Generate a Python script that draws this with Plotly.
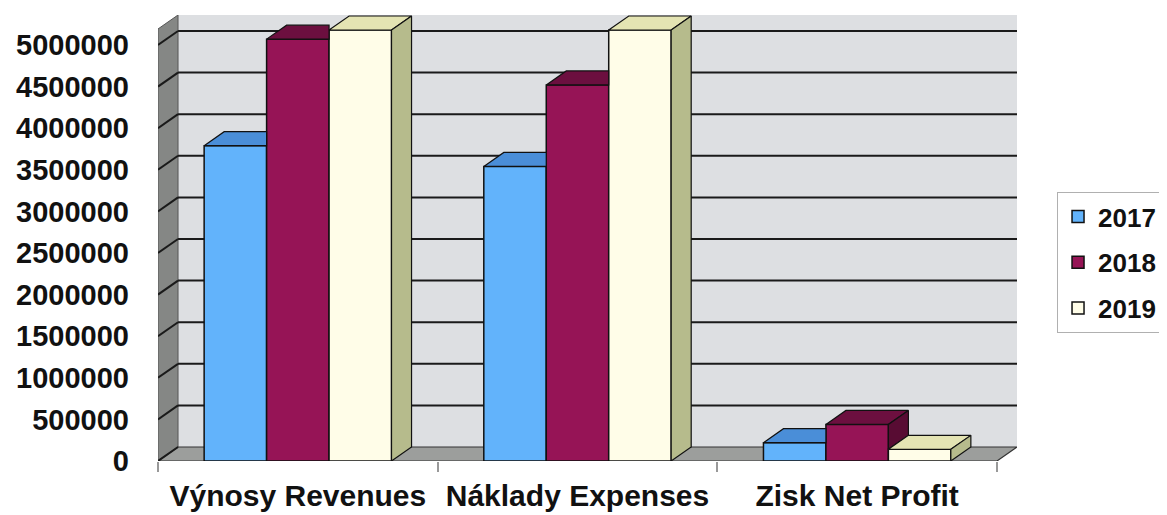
import plotly.graph_objects as go

# ---------------- data ----------------
categories = ["Výnosy Revenues", "Náklady Expenses", "Zisk Net Profit"]
years = ["2017", "2018", "2019"]
values_2017 = [3790000, 3540000, 220000]
values_2018 = [5070000, 4520000, 440000]
values_2019 = [5180000, 5180000, 140000]
y_ticks = [0, 500000, 1000000, 1500000, 2000000, 2500000,
           3000000, 3500000, 4000000, 4500000, 5000000]
y_tick_labels = [str(v) for v in y_ticks]

series = [values_2017, values_2018, values_2019]

# ---------------- style ----------------
front_colors = ["#62b3fb", "#961456", "#fffde8"]
top_colors = ["#4a8ed8", "#6c0f3f", "#e4e4b3"]
side_colors = ["#3e78bd", "#580c33", "#b6bb8c"]
FONT = "Liberation Sans, Arial, sans-serif"

Y_TOP = 5360000      # top of back wall (value units)
DX = 0.0716          # depth offset in category units
DY = 168000          # depth offset in value units
n = len(series)
BARGAP = 0.33
W = (1 - BARGAP) / n
offsets = [-(1 - BARGAP) / 2 + i * W for i in range(n)]
x_pos = list(range(len(categories)))

fig = go.Figure()

# front faces (real bars)
for i, vals in enumerate(series):
    fig.add_trace(go.Bar(
        x=x_pos, y=vals, width=W, offset=offsets[i], name=years[i],
        legendgroup=years[i],
        marker=dict(color=front_colors[i], line=dict(color="#111111", width=1.5)),
        hoverinfo="skip"))

# top and side faces derived from the data
for i, vals in enumerate(series):
    tx, ty, sx, sy = [], [], [], []
    for c in x_pos:
        xl = c + offsets[i]
        xr = xl + W
        h = vals[c]
        hn = series[i + 1][c] if i < n - 1 else 0
        if hn > h:
            px = [xl, xr, xr, xl + DX, xl]
        else:
            px = [xl, xr, xr + DX, xl + DX, xl]
        py = [h, h, h + DY, h + DY, h]
        tx += px + [None]
        ty += py + [None]
        if h > hn:
            sx += [xr, xr, xr + DX, xr + DX, xr, None]
            sy += [hn, h, h + DY, hn + DY, hn, None]
    fig.add_trace(go.Scatter(x=tx, y=ty, mode="lines", fill="toself",
                             fillcolor=top_colors[i],
                             line=dict(color="#111111", width=1.2),
                             showlegend=False, hoverinfo="skip"))
    fig.add_trace(go.Scatter(x=sx, y=sy, mode="lines", fill="toself",
                             fillcolor=side_colors[i],
                             line=dict(color="#111111", width=1.2),
                             showlegend=False, hoverinfo="skip"))

# walls, floor and gridlines
x0, x1 = -0.5, len(categories) - 0.5
shapes = []
shapes.append(dict(type="rect", xref="x", yref="y", x0=x0 + DX, x1=x1 + DX,
                   y0=DY, y1=Y_TOP, fillcolor="#dddfe2",
                   line=dict(width=0), layer="below"))
shapes.append(dict(type="path", xref="x", yref="y",
                   path=f"M{x0},0 L{x0},{Y_TOP - DY} L{x0 + DX},{Y_TOP} L{x0 + DX},{DY} Z",
                   fillcolor="#858785", line=dict(color="#555555", width=1),
                   layer="below"))
shapes.append(dict(type="path", xref="x", yref="y",
                   path=f"M{x0},0 L{x1},0 L{x1 + DX},{DY} L{x0 + DX},{DY} Z",
                   fillcolor="#9c9e9c", line=dict(color="#333333", width=1.2),
                   layer="below"))
for v in y_ticks[1:]:
    shapes.append(dict(type="line", xref="x", yref="y", x0=x0 + DX, x1=x1 + DX,
                       y0=v + DY, y1=v + DY,
                       line=dict(color="#1a1a1a", width=2), layer="below"))
for v in y_ticks:
    shapes.append(dict(type="line", xref="x", yref="y", x0=x0, x1=x0 + DX,
                       y0=v, y1=v + DY,
                       line=dict(color="#1a1a1a", width=2), layer="below"))

# the page has an 8px body margin, so the figure is 8px smaller and shifted
fig.update_layout(
    width=1159, height=507,
    margin=dict(l=150, r=150, t=7, b=54, autoexpand=False),
    paper_bgcolor="white", plot_bgcolor="white",
    barmode="group", shapes=shapes,
    font=dict(family=FONT, color="#111111"),
    legend=dict(x=1.0466, y=0.603, xanchor="left", yanchor="top",
                bordercolor="#b0b0b0", borderwidth=1, bgcolor="white",
                font=dict(size=26, family=FONT, weight="bold", color="#111111"),
                tracegroupgap=9, itemwidth=30),
    xaxis=dict(range=[x0, x1 + DX], tickvals=x_pos, ticktext=categories,
               tickfont=dict(size=30, family=FONT, weight="bold", color="#111111"),
               showgrid=False, zeroline=False, showline=False, ticks="",
               ticklabelstandoff=14,
               minor=dict(tickvals=[x0, 0.5, 1.5, x1], ticks="outside",
                          ticklen=10, tickcolor="#999999", tickwidth=1.5),
               fixedrange=True),
    yaxis=dict(range=[0, Y_TOP], tickvals=y_ticks, ticktext=y_tick_labels,
               tickfont=dict(size=29, family=FONT, weight="bold", color="#111111"),
               showgrid=False, zeroline=False, showline=False, ticks="",
               ticklabelstandoff=28, fixedrange=True),
)

fig.write_html("out.html")
